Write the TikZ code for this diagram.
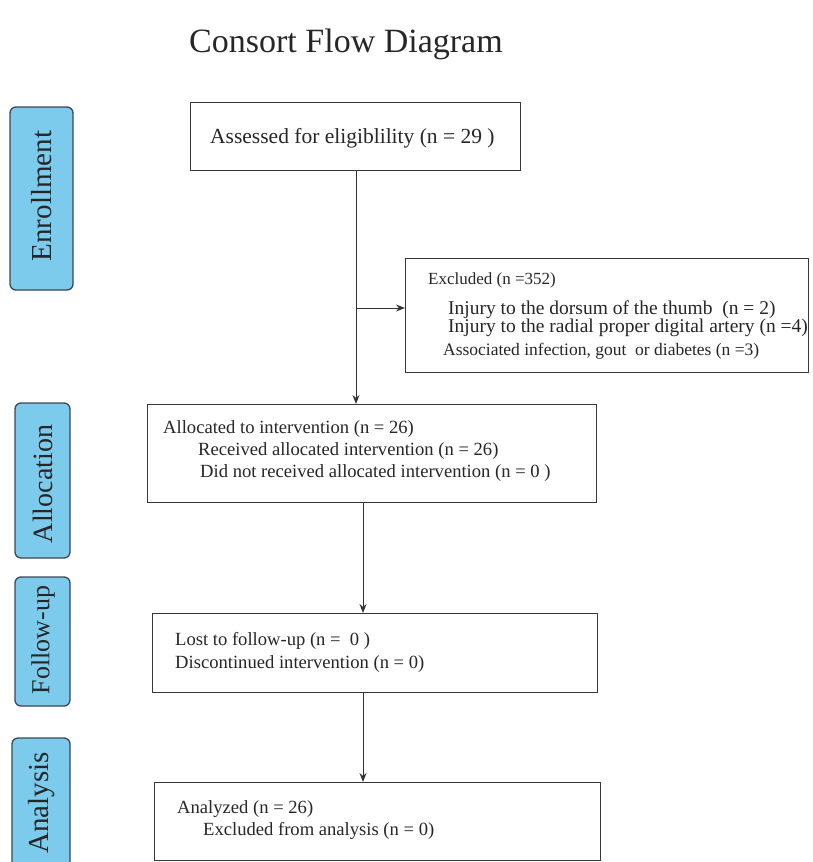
\documentclass[tikz,border=0pt]{standalone}
\usepackage{fontspec}
\setmainfont{Liberation Serif}
\usetikzlibrary{arrows.meta}
\definecolor{sideblue}{RGB}{125,203,236}
\definecolor{sideedge}{RGB}{60,70,85}
\definecolor{boxedge}{RGB}{55,55,55}
\begin{document}
\begin{tikzpicture}[x=1pt,y=-1pt,
  sidebox/.style={draw=sideedge,line width=1.3pt,fill=sideblue,rounded corners=6pt},
  sidetext/.style={rotate=90,font=\fontsize{28}{30}\selectfont,text=black!85},
  flowbox/.style={draw=boxedge,line width=1.3pt,fill=white},
  txt/.style={anchor=west,inner sep=0pt,font=\fontsize{18.6}{20}\selectfont,text=black!85},
  arr/.style={draw=black!80,line width=1pt,-{Stealth[length=9pt,width=7pt]}}]
\useasboundingbox (0,0) rectangle (813,862);
\node[font=\fontsize{34}{38}\selectfont,text=black!85] (title) at (346,44) {Consort Flow Diagram};
% side labels
\draw[sidebox] (10,107) rectangle (73,290);
\node[sidetext,font=\fontsize{29}{30}\selectfont] (enr) at (42,196) {Enrollment};
\draw[sidebox] (15,403) rectangle (70,558);
\node[sidetext] (alc) at (43,484) {Allocation};
\draw[sidebox] (15,577) rectangle (70,706);
\node[sidetext,font=\fontsize{26}{28}\selectfont] (fol) at (43,640) {Follow-up};
\draw[sidebox] (12,738) rectangle (70,875);
\node[sidetext,font=\fontsize{29}{30}\selectfont] (ana) at (42,803) {Analysis};
% flow boxes
\node[flowbox,minimum width=330,minimum height=68,anchor=north west] (assess) at (190,102) {};
\node[txt,font=\fontsize{21.5}{23}\selectfont] (t1) at (210,138) {Assessed for eligiblility (n = 29 )};
\node[flowbox,minimum width=403,minimum height=114,anchor=north west] (excl) at (405,258) {};
\node[txt,font=\fontsize{17}{19}\selectfont] (e1) at (428,280) {Excluded (n =352)};
\node[txt,font=\fontsize{19.5}{21}\selectfont] (e2) at (448,310) {Injury to the dorsum of the thumb \ (n = 2)};
\node[txt,font=\fontsize{19.5}{21}\selectfont] (e3) at (448,328) {Injury to the radial proper digital artery (n =4)};
\node[txt,font=\fontsize{17.5}{19}\selectfont] (e4) at (443,351) {Associated infection, gout \ or diabetes (n =3)};
\node[flowbox,minimum width=449,minimum height=98,anchor=north west] (alloc) at (147,404) {};
\node[txt] (a1) at (163,429) {Allocated to intervention (n = 26)};
\node[txt] (a2) at (198,451) {Received allocated intervention (n = 26)};
\node[txt] (a3) at (200,473) {Did not received allocated intervention (n = 0 )};
\node[flowbox,minimum width=445,minimum height=79,anchor=north west] (follow) at (152,613) {};
\node[txt] (f1) at (175,641) {Lost to follow-up (n = \ 0 )};
\node[txt] (f2) at (175,664) {Discontinued intervention (n = 0)};
\node[flowbox,minimum width=446,minimum height=78,anchor=north west] (anal) at (154,782) {};
\node[txt] (n1) at (177,809) {Analyzed (n = 26)};
\node[txt] (n2) at (203,831) {Excluded from analysis (n = 0)};
% connectors
\coordinate (split) at (356,308);
\draw[arr] (assess.south -| split) -- (alloc.north -| split);
\draw[arr] (split) -- (excl.west |- split);
\draw[arr] (alloc.south -| 363,0) -- (follow.north -| 363,0);
\draw[arr] (follow.south -| 363,0) -- (anal.north -| 363,0);
\end{tikzpicture}
\end{document}
